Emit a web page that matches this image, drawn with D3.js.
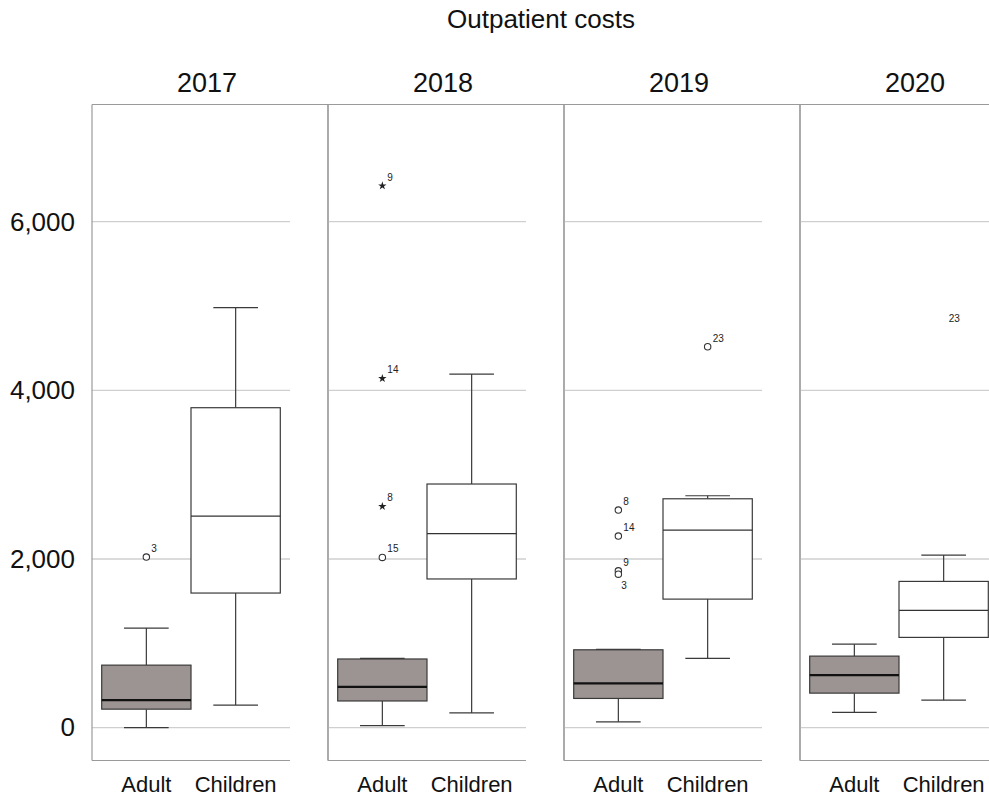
<!DOCTYPE html>
<html>
<head>
<meta charset="utf-8">
<script src="https://cdn.jsdelivr.net/npm/d3@7/dist/d3.min.js"></script>
<style>
  html, body { margin: 0; padding: 0; background: #fff; }
  svg { display: block; font-family: "Liberation Sans", Arial, sans-serif; }
</style>
</head>
<body>
<div id="chart"></div>
<script>
// Outpatient costs by year, adults vs children (box plots with labelled outliers)
const years = ["2017", "2018", "2019", "2020"];
const groups = ["Adult", "Children"];

const adultMin    = [0,    24,   69,   180];
const adultQ1     = [219,  316,  346,  409];
const adultMedian = [326,  482,  524,  623];
const adultQ3     = [741,  814,  923,  848];
const adultMax    = [1180, 820,  928,  990];

const childMin    = [267,  174,  821,  326];
const childQ1     = [1596, 1763, 1524, 1070];
const childMedian = [2509, 2300, 2343, 1390];
const childQ3     = [3794, 2889, 2714, 1734];
const childMax    = [4980, 4193, 2750, 2046];

// Outlying cases: year, group, value, case number, kind
const outlierYear  = ["2017", "2018", "2018", "2018", "2018", "2019", "2019", "2019", "2019", "2019", "2020"];
const outlierGroup = ["Adult", "Adult", "Adult", "Adult", "Adult", "Adult", "Adult", "Adult", "Adult", "Children", "Children"];
const outlierValue = [2023, 6426, 4141, 2624, 2019, 2580, 2272, 1860, 1820, 4517, 4750];
const outlierCase  = ["3", "9", "14", "8", "15", "8", "14", "9", "3", "23", "23"];
const outlierKind  = ["mild", "extreme", "extreme", "extreme", "mild", "mild", "mild", "mild", "mild", "mild", "unmarked"];

const yTicks = [0, 2000, 4000, 6000];

const W = 989, H = 798;
const panelW = 236;
const gridW = 198;

const svg = d3.select("#chart").append("svg")
  .attr("width", W).attr("height", H);

const x = d3.scaleBand().domain(years).range([92, 92 + panelW * years.length]).padding(0);
const xi = d3.scaleBand().domain(groups).range([9.7, 188.3]).padding(0);
const y = d3.scaleLinear().domain([-390, 7390]).range([760.5, 104.5]);

const stats = {
  Adult:    { min: adultMin, q1: adultQ1, med: adultMedian, q3: adultQ3, max: adultMax, fill: "#9b9492", medW: 2.2, medC: "#111" },
  Children: { min: childMin, q1: childQ1, med: childMedian, q3: childQ3, max: childMax, fill: "#ffffff", medW: 1.2, medC: "#333" }
};

// Title
svg.append("text")
  .attr("x", 541).attr("y", 28)
  .attr("text-anchor", "middle")
  .attr("font-size", 26)
  .attr("fill", "#111")
  .text("Outpatient costs");

// Y axis labels
const yAxis = d3.axisLeft(y).tickValues(yTicks).tickFormat(d3.format(",")).tickSize(0).tickPadding(17);
const ya = svg.append("g").attr("transform", `translate(${x(years[0])},0)`).call(yAxis);
ya.select(".domain").remove();
ya.selectAll("text").attr("font-size", 26).attr("fill", "#111").attr("font-family", "Liberation Sans, Arial, sans-serif");

years.forEach((yr, i) => {
  const g = svg.append("g").attr("transform", `translate(${x(yr)},0)`);

  // Year heading
  g.append("text")
    .attr("x", 115).attr("y", 92)
    .attr("text-anchor", "middle")
    .attr("font-size", 27)
    .attr("fill", "#111")
    .text(yr);

  // Gridlines
  g.selectAll("line.grid").data(yTicks).join("line")
    .attr("class", "grid")
    .attr("x1", 0).attr("x2", gridW)
    .attr("y1", d => y(d)).attr("y2", d => y(d))
    .attr("stroke", "#cfcfcf").attr("stroke-width", 1.3);

  // Panel frame: top, left, right, and a bottom edge as wide as the gridlines
  const top = y.range()[1], bot = y.range()[0];
  g.append("line").attr("x1", 0).attr("x2", panelW).attr("y1", top).attr("y2", top)
    .attr("stroke", "#9a9a9a").attr("stroke-width", 1.2);
  g.append("line").attr("x1", 0).attr("x2", 0).attr("y1", top).attr("y2", bot)
    .attr("stroke", "#9a9a9a").attr("stroke-width", 1.2);
  g.append("line").attr("x1", panelW).attr("x2", panelW).attr("y1", top).attr("y2", bot)
    .attr("stroke", "#9a9a9a").attr("stroke-width", 1.2);
  g.append("line").attr("x1", 0).attr("x2", gridW).attr("y1", bot).attr("y2", bot)
    .attr("stroke", "#9a9a9a").attr("stroke-width", 1.2);

  // Category labels
  groups.forEach(grp => {
    g.append("text")
      .attr("x", xi(grp) + xi.bandwidth() / 2).attr("y", 792)
      .attr("text-anchor", "middle")
      .attr("font-size", 22)
      .attr("fill", "#111")
      .text(grp);
  });

  // Boxes
  groups.forEach(grp => {
    const s = stats[grp];
    const x0 = xi(grp), bw = xi.bandwidth(), cx = x0 + bw / 2, cap = bw / 4;
    const stroke = "#3a3a3a";
    // whiskers
    g.append("line").attr("x1", cx).attr("x2", cx).attr("y1", y(s.q3[i])).attr("y2", y(s.max[i]))
      .attr("stroke", stroke).attr("stroke-width", 1.2);
    g.append("line").attr("x1", cx).attr("x2", cx).attr("y1", y(s.q1[i])).attr("y2", y(s.min[i]))
      .attr("stroke", stroke).attr("stroke-width", 1.2);
    g.append("line").attr("x1", cx - cap).attr("x2", cx + cap).attr("y1", y(s.max[i])).attr("y2", y(s.max[i]))
      .attr("stroke", stroke).attr("stroke-width", 1.2);
    g.append("line").attr("x1", cx - cap).attr("x2", cx + cap).attr("y1", y(s.min[i])).attr("y2", y(s.min[i]))
      .attr("stroke", stroke).attr("stroke-width", 1.2);
    // box
    g.append("rect")
      .attr("x", x0).attr("width", bw)
      .attr("y", y(s.q3[i])).attr("height", y(s.q1[i]) - y(s.q3[i]))
      .attr("fill", s.fill).attr("stroke", stroke).attr("stroke-width", 1.2);
    // median
    g.append("line").attr("x1", x0).attr("x2", x0 + bw).attr("y1", y(s.med[i])).attr("y2", y(s.med[i]))
      .attr("stroke", s.medC).attr("stroke-width", s.medW);
  });

  // Outliers
  const pts = outlierYear.map((yy, k) => ({ yy, grp: outlierGroup[k], v: outlierValue[k], id: outlierCase[k], kind: outlierKind[k] }))
    .filter(p => p.yy === yr)
    .sort((a, b) => b.v - a.v);
  pts.forEach((p, k) => {
    const cx = xi(p.grp) + xi.bandwidth() / 2;
    const cy = y(p.v);
    if (p.kind === "mild") {
      g.append("circle").attr("cx", cx).attr("cy", cy).attr("r", 3.2)
        .attr("fill", "#fff").attr("stroke", "#333").attr("stroke-width", 1.1);
    } else if (p.kind === "extreme") {
      g.append("path")
        .attr("d", d3.symbol().type(d3.symbolStar).size(22)())
        .attr("transform", `translate(${cx},${cy})`)
        .attr("fill", "#222");
    }
    // a point sitting almost on top of the one above it gets its label underneath
    const prev = pts[k - 1];
    const below = prev && prev.grp === p.grp && (prev.v - p.v) < 80;
    g.append("text")
      .attr("x", cx + (below ? 3 : 5))
      .attr("y", below ? cy + 15 : cy - 5)
      .attr("font-size", 10)
      .attr("fill", "#222")
      .text(p.id);
  });
});
</script>
</body>
</html>
